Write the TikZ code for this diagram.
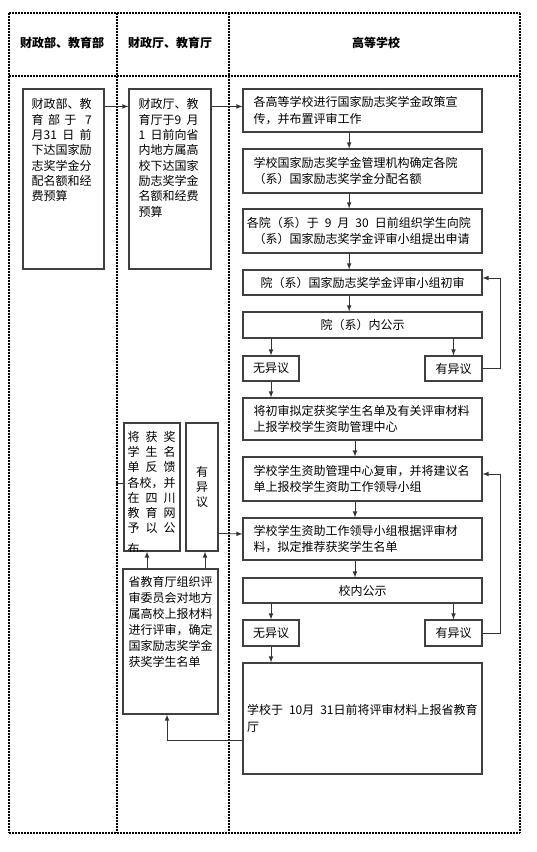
\documentclass[tikz,border=0pt]{standalone}
\usepackage{fontspec}
\setmainfont{Noto Sans CJK SC}
\usepackage{tikz}
\usetikzlibrary{arrows}

\begin{document}
\begin{tikzpicture}[x=0.75pt,y=-0.75pt,
		kuang/.style={draw=black!75,line width=0.8pt,inner sep=0pt},
		wenzi/.style={font=\fontsize{9}{12.5}\selectfont},
		liucheng/.style={kuang,wenzi,text width=163.5pt,inner xsep=7.875pt,align=left},
		zhong/.style={liucheng,align=center},
		duanwen/.style={anchor=north west,inner sep=0pt,align=left},
		xian/.style={draw=black!80,line width=0.6pt,-latex},
		bianjie/.style={draw=black,line width=1.6pt,dash pattern=on 1.5pt off 0.75pt},
		hengjie/.style={bianjie,line width=1.2pt}]
		\useasboundingbox (0,0) rectangle (536,852);
		\path[hengjie] (9,13) -- (520,13);
		\path[hengjie] (9,76) -- (520,76);
		\path[hengjie] (9,833) -- (520,833);
		\path[bianjie] (9,13) -- (9,833);
		\path[bianjie] (117,13) -- (117,833);
		\path[bianjie] (229,13) -- (229,833);
		\path[bianjie] (520,13) -- (520,833);
		
		\node[font=\bfseries\fontsize{9}{12}\selectfont] (biaoti1) at (62,43) {财政部、教育部};
		\node[font=\bfseries\fontsize{9}{12}\selectfont] (biaoti2) at (170,43) {财政厅、教育厅};
		\node[font=\bfseries\fontsize{9}{12}\selectfont] (biaoti3) at (376,43) {高等学校};
		
		\node[kuang,minimum width=60.75pt,minimum height=135pt] (cbu) at (63.5,179) {};
		\node[duanwen,text width=45pt,font=\fontsize{9}{11.5}\selectfont] (cbu-t) at ([shift={(9,10)}]cbu.north west)
			{财政部、教\\\makebox[5em][s]{育\hfill 部\hfill 于\hfill\hfill 7}\\\makebox[5em][s]{月31\hfill 日\hfill 前}\\下达国家励\\志奖学金分\\配名额和经\\费预算};
		\node[kuang,minimum width=61.5pt,minimum height=135pt] (cting) at (170,179) {};
		\node[duanwen,text width=45pt,font=\fontsize{9}{11.5}\selectfont] (cting-t) at ([shift={(10,10)}]cting.north west)
			{财政厅、教\\\makebox[5em][s]{育厅于9\hfill 月}\\\makebox[5em][s]{1\hfill 日前向省}\\内地方属高\\校下达国家\\励志奖学金\\名额和经费\\预算};
		
		\node[liucheng,minimum height=32.25pt] (r1) at (362.5,110.5) {各高等学校进行国家励志奖学金政策宣\\传，并布置评审工作};
		\node[liucheng,minimum height=33pt] (r2) at (362.5,171) {学校国家励志奖学金管理机构确定各院\\（系）国家励志奖学金分配名额};
		\node[liucheng,minimum height=33pt] (r3) at (362.5,231) {\hspace*{-5pt}各院（系）于\enspace 9\enspace 月\enspace 30\enspace 日前组织学生向院\\（系）国家励志奖学金评审小组提出申请};
		\node[zhong,minimum height=18.75pt] (r4) at (362.5,282.5) {院（系）国家励志奖学金评审小组初审};
		\node[zhong,minimum height=19.5pt] (r5) at (362.5,325) {院（系）内公示};
		\node[kuang,wenzi,minimum width=42pt,minimum height=18.75pt] (wy1) at (271,368.5) {无异议};
		\node[kuang,wenzi,minimum width=42.75pt,minimum height=18.75pt] (yy1) at (453.5,368.5) {有异议};
		\node[liucheng,minimum height=31.5pt] (r7) at (362.5,419) {将初审拟定获奖学生名单及有关评审材料\\上报学校学生资助管理中心};
		\node[liucheng,minimum height=33pt] (r8) at (362.5,479) {学校学生资助管理中心复审，并将建议名\\单上报校学生资助工作领导小组};
		\node[liucheng,minimum height=31.5pt] (r9) at (362.5,539) {学校学生资助工作领导小组根据评审材\\料，拟定推荐获奖学生名单};
		\node[zhong,minimum height=18.75pt] (r10) at (362.5,590.5) {校内公示};
		\node[kuang,wenzi,minimum width=42pt,minimum height=19.5pt] (wy2) at (271,633) {无异议};
		\node[kuang,wenzi,minimum width=42.75pt,minimum height=19.5pt] (yy2) at (453.5,633) {有异议};
		\node[liucheng,minimum height=83.25pt,text width=173.25pt,inner xsep=3pt] (r11) at (362.5,718.5) {学校于\enspace 10月\enspace 31日前将评审材料上报省教育\\厅};
		
		\node[kuang,minimum width=71.25pt,minimum height=108.75pt] (sheng) at (170.5,641.5) {};
		\node[duanwen,text width=63pt,font=\fontsize{9}{12}\selectfont] (sheng-t) at ([shift={(6,8)}]sheng.north west)
			{省教育厅组织评\\审委员会对地方\\属高校上报材料\\进行评审，确定\\国家励志奖学金\\获奖学生名单};
		\node[kuang,minimum width=42pt,minimum height=96pt] (fankui) at (152,487) {};
		\begin{scope}
			\clip (fankui.north west) rectangle (fankui.south east);
			\node[duanwen,text width=36pt,font=\fontsize{9}{11.3}\selectfont] (fankui-t) at ([shift={(4,9)}]fankui.north west)
				{\makebox[36pt][s]{将\hfill 获\hfill 奖}\\\makebox[36pt][s]{学\hfill 生\hfill 名}\\\makebox[36pt][s]{单\hfill 反\hfill 馈}\\各校，并\\\makebox[36pt][s]{在\hfill 四\hfill 川}\\\makebox[36pt][s]{教\hfill 育\hfill 网}\\\makebox[36pt][s]{予\hfill 以\hfill 公}\\[5pt]布。};
		\end{scope}
		\node[kuang,minimum width=24pt,minimum height=96pt,align=center,font=\fontsize{9}{11.25}\selectfont] (yiyi) at (202,487) {有\\异\\议};
		
		\draw[xian] ([yshift=-13.5pt]cbu.north east) -- ([yshift=-13.5pt]cting.north west);
		\draw[xian] ([yshift=-13.5pt]cting.north east) -- ([yshift=-13.5pt]r1.north west);
		\draw[xian] ([xshift=-10pt]r1.south) -- ([xshift=-10pt]r2.north);
		\draw[xian] ([xshift=-10pt]r2.south) -- ([xshift=-10pt]r3.north);
		\draw[xian] ([xshift=-10pt]r3.south) -- ([xshift=-10pt]r4.north);
		\draw[xian] ([xshift=-10pt]r4.south) -- ([xshift=-10pt]r5.north);
		\draw[xian] (wy1.north |- r5.south) -- (wy1.north);
		\draw[xian] (yy1.north |- r5.south) -- (yy1.north);
		\draw[xian] (yy1.east) -- ++(18,0) |- ([yshift=3.375pt]r4.east);
		\draw[xian] (wy1.south) -- (wy1.south |- r7.north);
		\draw[xian] ([xshift=-5.625pt]r7.south) -- ([xshift=-5.625pt]r8.north);
		\draw[xian] ([xshift=-5.625pt]r8.south) -- ([xshift=-5.625pt]r9.north);
		\draw[xian] ([xshift=-5.625pt]r9.south) -- ([xshift=-5.625pt]r10.north);
		\draw[xian] (wy2.north |- r10.south) -- (wy2.north);
		\draw[xian] (yy2.north |- r10.south) -- (yy2.north);
		\draw[xian] (yy2.east) -- ++(18,0) |- ([yshift=3.75pt]r8.east);
		\draw[xian] (wy2.south) -- (wy2.south |- r11.north);
		\draw[xian] ([yshift=-16.125pt]r11.west) -| ([xshift=-2.625pt]sheng.south);
		\draw[xian] ([xshift=-17.625pt]sheng.north) -- ([xshift=-3.75pt]fankui.south);
		\draw[xian] ([xshift=25.875pt]sheng.north) -- ([xshift=2.25pt]yiyi.south);
		\draw[xian] ([yshift=-83.25pt]yiyi.north east) -- ([yshift=-12.375pt]r9.north west);
		\draw[draw=black!80,line width=0.6pt] ([yshift=3pt]fankui.west) -- ++(-7,0);
	\end{tikzpicture}
\end{document}
